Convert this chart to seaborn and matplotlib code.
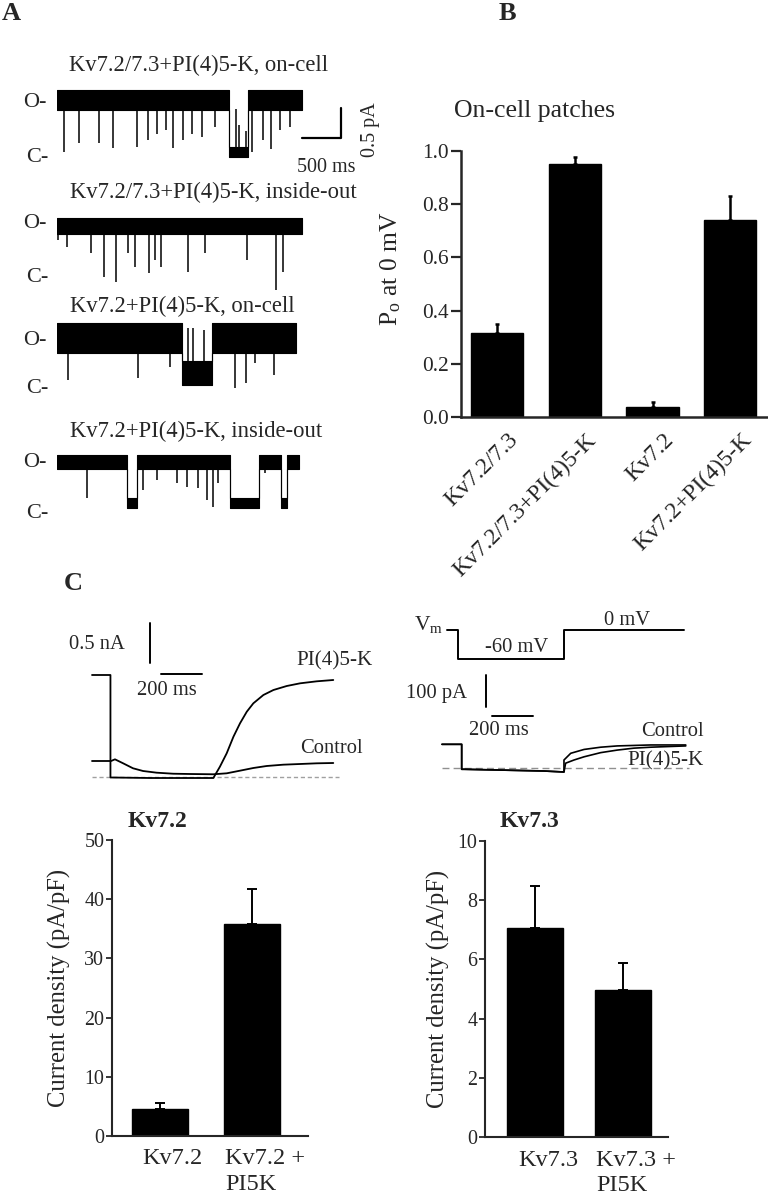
import numpy as np
import pandas as pd
import matplotlib
matplotlib.use("Agg")
import matplotlib.pyplot as plt
import seaborn as sns
from matplotlib.transforms import ScaledTranslation

# ---------------- data ----------------
# Panel A: single-channel records (time in ms, current in pA, closed level = 0)
T1_END = 3137
T1_OPEN = 0.87
T1_CLOSURES = [(2209, 2453)]
T1_DOWN_T = [90, 286, 543, 722, 1030, 1171, 1278, 1393, 1491, 1611, 1727, 1855, 2026, 2504, 2645, 2739, 2859, 2987]
T1_DOWN_TIP = [0.0, 0.15, 0.15, 0.07, 0.08, 0.2, 0.3, 0.37, 0.07, 0.2, 0.3, 0.25, 0.42, 0.0, 0.2, 0.05, 0.37, 0.42]
T1_UP_T = [2290, 2330, 2420]
T1_UP_TIP = [0.72, 0.45, 0.35]

T2_END = 3137
T2_OPEN = 0.82
T2_CLOSURES = []
T2_DOWN_T = [17, 124, 432, 603, 756, 914, 1000, 1183, 1256, 1329, 1683, 1897, 2432, 2808, 2901]
T2_DOWN_TIP = [0.58, 0.47, 0.37, -0.03, -0.12, 0.37, 0.13, 0.03, 0.25, 0.13, 0.05, 0.37, 0.25, -0.25, 0.05]

T3_END = 3064
T3_OPEN = 0.58
T3_CLOSURES = [(1598, 1983)]
T3_DOWN_T = [137, 1043, 1449, 2282, 2423, 2538, 2782]
T3_DOWN_TIP = [-0.12, -0.08, 0.1, -0.25, -0.17, 0.17, -0.03]
T3_UP_T = [1683, 1740, 1885]
T3_UP_TIP = [0.75, 0.75, 0.72]

T4_END = 3102
T4_OPEN = 0.68
T4_CLOSURES = [(893, 1021), (2218, 2594), (2872, 2953)]
T4_DOWN_T = [389, 1107, 1278, 1534, 1662, 1812, 1919, 2004, 2068, 2667]
T4_DOWN_TIP = [0.08, 0.22, 0.38, 0.33, 0.27, 0.25, 0.05, -0.07, 0.33, 0.5]

# Panel B
B_LABELS = ["Kv7.2/7.3", "Kv7.2/7.3+PI(4)5-K", "Kv7.2", "Kv7.2+PI(4)5-K"]
B_MEAN = [0.315, 0.95, 0.038, 0.74]
B_SEM = [0.035, 0.028, 0.018, 0.09]

# Panel C traces (left: ms / nA, right: ms / pA, protocol ms / mV)
CL_PI_T = [0, 90, 90, 283, 592, 624, 657, 690, 722, 755, 787, 836, 885, 950, 1015, 1096, 1177]
CL_PI_I = [1.275, 1.275, -0.006, -0.0125, -0.0125, 0.129, 0.296, 0.504, 0.671, 0.816, 0.921, 1.025, 1.0875, 1.1375, 1.171, 1.196, 1.2125]
CL_CT_T = [0, 93, 112, 152, 200, 249, 315, 396, 478, 592, 657, 722, 787, 852, 933, 1015, 1096, 1177]
CL_CT_I = [0.2, 0.2, 0.221, 0.171, 0.109, 0.075, 0.054, 0.041, 0.0375, 0.034, 0.046, 0.079, 0.1125, 0.1375, 0.154, 0.1625, 0.171, 0.175]

CR_CT_T = [0, 96, 96, 107, 497, 595, 595, 628, 693, 774, 855, 1018, 1189]
CR_CT_I = [74, 74, -4, -4, -9.4, -12.5, 25, 46, 58, 65, 69, 72, 72]
CR_PI_T = [0, 96, 96, 107, 497, 595, 603, 644, 693, 774, 855, 936, 1018, 1189]
CR_PI_I = [74, 74, -4, -4, -9.4, -12.5, 15, 25, 35, 48, 56, 62, 65, 69]
VM_T = [24, 78, 78, 595, 595, 1180]
VM_V = [0, 0, -60, -60, 0, 0]

# Panel C bars
K2_LABELS = ["Kv7.2", "Kv7.2 +\nPI5K"]
K2_MEAN = [4.6, 35.8]
K2_SEM = [1.0, 5.9]
K3_LABELS = ["Kv7.3", "Kv7.3 +\nPI5K"]
K3_MEAN = [7.05, 4.97]
K3_SEM = [1.43, 0.91]

# ---------------- style ----------------
sns.set_style("ticks")
plt.rcParams["font.family"] = ["Liberation Serif", "DejaVu Serif"]
plt.rcParams["mathtext.fontset"] = "custom"
plt.rcParams["mathtext.rm"] = "Liberation Serif"
plt.rcParams["mathtext.it"] = "Liberation Serif:italic"

W, H = 768, 1199
fig = plt.figure(figsize=(W / 100, H / 100), dpi=100)


def ax_px(x0, y0, x1, y1):
    return fig.add_axes([x0 / W, 1 - y1 / H, (x1 - x0) / W, (y1 - y0) / H])


def ftext(x, y, s, **kw):
    kw.setdefault("va", "baseline")
    return fig.text(x / W, 1 - y / H, s, **kw)


def trace_ax(x0, y0, x1, y1, ox, sx, oy, sy):
    ax = ax_px(x0, y0, x1, y1)
    ax.set_xlim((x0 - ox) * sx, (x1 - ox) * sx)
    ax.set_ylim((oy - y1) * sy, (oy - y0) * sy)
    ax.axis("off")
    return ax


def draw_channel(ax, end, open_lv, closures, hw_o, hw_c, dn_t, dn_tip, up_t=None, up_tip=None):
    t = [0.0]
    lv = [open_lv]
    for a, b in closures:
        t += [a, a, b, b]
        lv += [open_lv, 0.0, 0.0, open_lv]
    t.append(end)
    lv.append(open_lv)
    t = np.array(t, float)
    lv = np.array(lv, float)
    hw = np.where(lv > 0, hw_o, hw_c)
    ax.fill_between(t, lv - hw, lv + hw, color="black", lw=0.8)
    ax.vlines(dn_t, dn_tip, open_lv, color="black", lw=1.1)
    if up_t is not None:
        ax.vlines(up_t, 0, up_tip, color="black", lw=1.1)


# ---------------- Panel A ----------------
ftext(2, 20, "A", fontsize=19, fontweight="bold")
MS_PX = 500 / 39.0
PA_PX = 1 / 60.0

trace_specs = [
    (100, 152, T1_END, T1_OPEN, T1_CLOSURES, 0.17, 0.08, T1_DOWN_T, T1_DOWN_TIP, T1_UP_T, T1_UP_TIP),
    (226, 275, T2_END, T2_OPEN, T2_CLOSURES, 0.13, 0.08, T2_DOWN_T, T2_DOWN_TIP, None, None),
    (338, 373, T3_END, T3_OPEN, T3_CLOSURES, 0.25, 0.2, T3_DOWN_T, T3_DOWN_TIP, T3_UP_T, T3_UP_TIP),
    (462, 503, T4_END, T4_OPEN, T4_CLOSURES, 0.12, 0.08, T4_DOWN_T, T4_DOWN_TIP, None, None),
]
tr_axes = []
for op, cl, end, olv, clos, hwo, hwc, dt, dtip, ut, utip in trace_specs:
    a = trace_ax(57, op - 40, 385, cl + 40, 57, MS_PX, cl, PA_PX)
    draw_channel(a, end, olv, clos, hwo, hwc, dt, dtip, ut, utip)
    tr_axes.append(a)

# scale bar (500 ms, 0.5 pA)
a1 = tr_axes[0]
a1.plot([3141, 3641, 3641], [0.233, 0.233, 0.733], color="black", lw=1.6, clip_on=False)
ftext(326, 172, "500 ms", fontsize=14.5, ha="center")
fig.text(371 / W, 1 - 130 / H, "0.5 pA", fontsize=14.5, rotation=90, ha="center", va="center")

titlesA = [("Kv7.2/7.3+PI(4)5-K, on-cell", 199, 71),
           ("Kv7.2/7.3+PI(4)5-K, inside-out", 213, 198),
           ("Kv7.2+PI(4)5-K, on-cell", 182, 312),
           ("Kv7.2+PI(4)5-K, inside-out", 196, 437)]
for s, x, y in titlesA:
    ftext(x, y, s, fontsize=16.3, ha="center")
for yo, yc in [(107, 162), (228, 282), (345, 393), (467, 518)]:
    ftext(23, yo, "O-", fontsize=16)
    ftext(26, yc, "C-", fontsize=16)

# ---------------- Panel B ----------------
ftext(499, 20, "B", fontsize=19, fontweight="bold")
ftext(535, 117, "On-cell patches", fontsize=18.5, ha="center")
axB = ax_px(461, 151, 767, 417)
dfB = pd.DataFrame({"group": B_LABELS, "po": B_MEAN})
sns.barplot(data=dfB, x="group", y="po", color="black", edgecolor="black", saturation=1,
            width=0.67, errorbar=None, ax=axB)
axB.errorbar(np.arange(len(B_MEAN)), B_MEAN, yerr=[np.zeros(len(B_SEM)), B_SEM], fmt="none",
             ecolor="black", elinewidth=1.8, capsize=1.6, capthick=1.8)
axB.set_ylim(0, 1.0)
axB.set_xlim(-0.46, 3.47)
axB.set_yticks([0, 0.2, 0.4, 0.6, 0.8, 1.0])
axB.set_yticklabels(["0.0", "0.2", "0.4", "0.6", "0.8", "1.0"])
for s in ["top", "right"]:
    axB.spines[s].set_visible(False)
for s in ["left", "bottom"]:
    axB.spines[s].set_linewidth(1.8)
axB.tick_params(axis="y", length=7, width=1.6, pad=2, labelsize=15.4, direction="out")
axB.tick_params(axis="x", length=0, pad=9, labelsize=17)
axB.set_xlabel("")
axB.set_ylabel(r"P$_\mathrm{o}$ at 0 mV", fontsize=18.4)
axB.yaxis.set_label_coords(-0.19, 0.556)
offB = ScaledTranslation(11 / 100, 0, fig.dpi_scale_trans)
for lbl in axB.get_xticklabels():
    lbl.set_rotation(45)
    lbl.set_ha("right")
    lbl.set_va("top")
    lbl.set_rotation_mode("anchor")
    lbl.set_transform(lbl.get_transform() + offB)

# ---------------- Panel C traces ----------------
ftext(64, 590, "C", fontsize=19, fontweight="bold")
MS_C = 200 / 41.0
axCL = trace_ax(80, 600, 380, 790, 92, MS_C, 777, 1 / 80.0)
axCL.plot([0, 1205], [0, 0], color="#a0a0a0", lw=1.0, ls=(0, (3, 2)))
axCL.plot(CL_CT_T, CL_CT_I, color="black", lw=1.3)
axCL.plot(CL_PI_T, CL_PI_I, color="black", lw=1.3)
axCL.plot([283, 283], [1.425, 1.925], color="black", lw=1.4)
axCL.plot([336.6, 536.6], [1.2875, 1.2875], color="black", lw=1.4)
ftext(97, 649, "0.5 nA", fontsize=14.8, ha="center")
ftext(167, 695, "200 ms", fontsize=14.8, ha="center")
ftext(335, 665, "PI(4)5-K", fontsize=15.2, ha="center")
ftext(331, 753, "Control", fontsize=14.8, ha="center")

axVm = trace_ax(400, 600, 768, 670, 442, MS_C, 630, 60 / 29.0)
axVm.plot(VM_T, VM_V, color="black", lw=1.4)
axCR = trace_ax(400, 670, 768, 790, 442, MS_C, 768, 1 / 0.32)
axCR.plot([0, 1205], [0, 0], color="#909090", lw=1.0, ls=(0, (5, 3)))
axCR.plot(CR_PI_T, CR_PI_I, color="black", lw=1.2)
axCR.plot(CR_CT_T, CR_CT_I, color="black", lw=1.2)
axCR.plot([214.6, 214.6], [190.6, 290.6], color="black", lw=1.4)
axCR.plot([243.9, 443.9], [162.5, 162.5], color="black", lw=1.4)
ftext(414, 630, r"V$_\mathrm{m}$", fontsize=15.5)
ftext(517, 652, "-60 mV", fontsize=14.8, ha="center")
ftext(627, 625, "0 mV", fontsize=14.8, ha="center")
ftext(436, 698, "100 pA", fontsize=14.8, ha="center")
ftext(499, 735, "200 ms", fontsize=14.8, ha="center")
ftext(672, 736, "Control", fontsize=14.8, ha="center")
ftext(666, 765, "PI(4)5-K", fontsize=15.2, ha="center")

# ---------------- Panel C bars ----------------
def bar_panel(rect, labels, means, sems, width, ylim, yticks, title, tx, xlim, label_x):
    ax = ax_px(*rect)
    df = pd.DataFrame({"group": labels, "dens": means})
    sns.barplot(data=df, x="group", y="dens", color="black", edgecolor="black", saturation=1,
                width=width, errorbar=None, ax=ax)
    ax.errorbar(np.arange(len(means)), means, yerr=[np.zeros(len(sems)), sems], fmt="none",
                ecolor="black", elinewidth=1.4, capsize=3.6, capthick=1.4)
    ax.set_ylim(*ylim)
    ax.set_xlim(*xlim)
    ax.set_yticks(yticks)
    for s in ["top", "right"]:
        ax.spines[s].set_visible(False)
    for s in ["left", "bottom"]:
        ax.spines[s].set_linewidth(1.5)
    ax.tick_params(axis="y", length=4, width=1.3, pad=1.5, labelsize=14.4)
    ax.tick_params(axis="x", length=0, pad=9, labelsize=17.5)
    ax.set_xlabel("")
    ax.set_ylabel("Current density (pA/pF)", fontsize=17.7)
    ax.yaxis.set_label_coords(label_x, 0.5)
    off = ScaledTranslation(13 / 100, 0, fig.dpi_scale_trans)
    for lbl in ax.get_xticklabels():
        lbl.set_multialignment("left")
        lbl.set_linespacing(1.3)
        lbl.set_transform(lbl.get_transform() + off)
    ftext(tx, 827, title, fontsize=17, fontweight="bold", ha="center")
    return ax


bar_panel((112, 840, 308, 1136), K2_LABELS, K2_MEAN, K2_SEM, 0.61, (0, 50), [0, 10, 20, 30, 40, 50],
          "Kv7.2", 157, (-0.52, 1.61), -0.21)
bar_panel((485, 841, 668, 1137), K3_LABELS, K3_MEAN, K3_SEM, 0.64, (0, 10), [0, 2, 4, 6, 8, 10],
          "Kv7.3", 529, (-0.57, 1.51), -0.19)

fig.savefig("out.png", dpi=100, facecolor="white")
